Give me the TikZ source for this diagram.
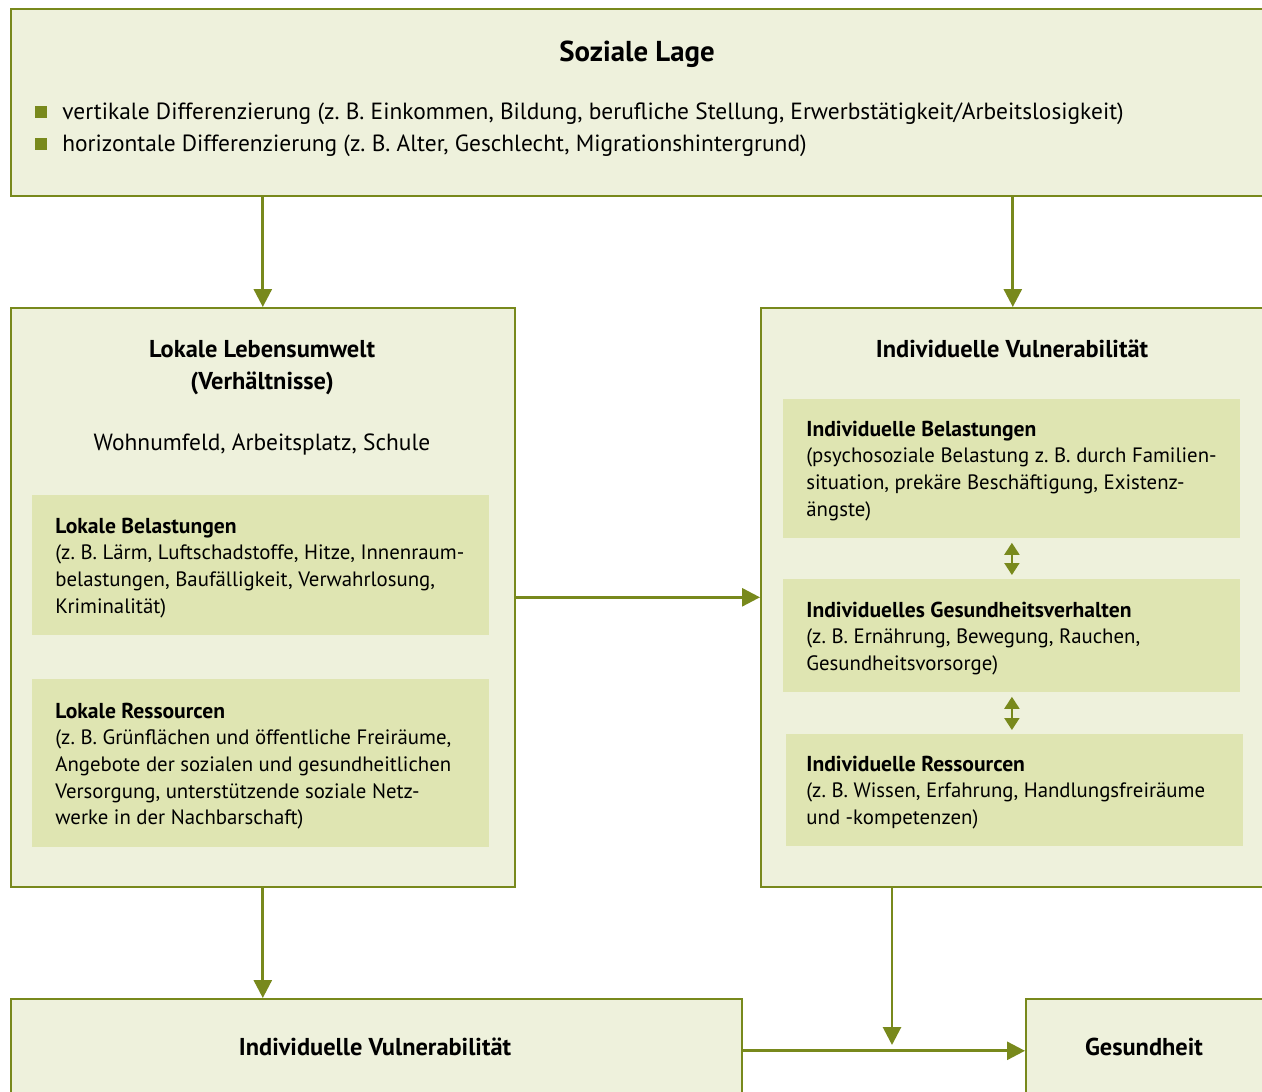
\documentclass[tikz,border=0pt]{standalone}
\usepackage{fontspec}
\setmainfont{PT Sans}
\usetikzlibrary{arrows.meta}
\definecolor{olive}{RGB}{120,137,28}
\definecolor{boxfill}{RGB}{238,241,220}
\definecolor{innerfill}{RGB}{223,229,178}
\newcommand\innerhead[1]{\hbox{\fontsize{10.8pt}{13.35pt}\selectfont\bfseries #1}}
\newcommand\innerline[1]{\hbox{#1}}
\begin{document}
\begin{tikzpicture}[x=0.5pt,y=-0.5pt,
  outerbox/.style={draw=olive,line width=0.8pt,fill=boxfill,anchor=north west,inner sep=0pt},
  innerbox/.style={fill=innerfill,anchor=north west,inner sep=0pt,minimum width=228.5pt},
  arr/.style={draw=olive,line width=1.4pt,-{Triangle[width=9pt,length=9pt]}},
  darr/.style={draw=olive,line width=1pt,{Triangle[width=7.5pt,length=6pt]}-{Triangle[width=7.5pt,length=6pt]},shorten <=2pt,shorten >=2pt},
  bullet/.style={fill=olive,minimum size=6pt,inner sep=0pt},
  bigtxt/.style={inner sep=0pt,font=\fontsize{11.7pt}{16pt}\selectfont},
  ttl/.style={inner sep=0pt,font=\fontsize{12.2pt}{16pt}\selectfont\bfseries,anchor=base},
  smalltxt/.style={anchor=base west,inner sep=0pt,font=\fontsize{10.4pt}{13.35pt}\selectfont}
]
\useasboundingbox (0,0) rectangle (1262,1091);
\clip (0,0) rectangle (1262,1091);
% boxes
\node[outerbox,minimum width=630pt,minimum height=93.5pt] (top) at (10,8) {};
\node[outerbox,minimum width=252pt,minimum height=289.5pt] (left) at (10,307) {};
\node[outerbox,minimum width=252pt,minimum height=289.5pt] (right) at (760,307) {};
\node[outerbox,minimum width=365.5pt,minimum height=52pt] (bl) at (10,998) {};
\node[outerbox,minimum width=125pt,minimum height=52pt] (ges) at (1025,998) {};
\node[innerbox,minimum height=70pt] (lb) at (32,495) {};
\node[innerbox,minimum height=84pt] (lr) at (32,679) {};
\node[innerbox,minimum height=69.5pt] (ib) at (783,399) {};
\node[innerbox,minimum height=56.5pt] (ig) at (783,579) {};
\node[innerbox,minimum height=56pt] (ir) at (786,734) {};
% top texts
\node[inner sep=0pt,anchor=base,font=\fontsize{14.4pt}{16pt}\selectfont\bfseries] (tt) at (637,62) {Soziale Lage};
\node[bullet] (b1) at (41,112) {};
\node[bullet] (b2) at (41,144) {};
\node[bigtxt,anchor=base west] (t1) at (62,120) {vertikale Differenzierung (z.~B. Einkommen, Bildung, berufliche Stellung, Erwerbstätigkeit/Arbeitslosigkeit)};
\node[bigtxt,anchor=base west] (t2) at (62,152) {horizontale Differenzierung (z.~B. Alter, Geschlecht, Migrationshintergrund)};
% left texts
\node[ttl] (lt1) at (262,357) {Lokale Lebensumwelt};
\node[ttl] (lt2) at (262,389) {(Verhältnisse)};
\node[bigtxt,anchor=base] (lt3) at (262,450) {Wohnumfeld, Arbeitsplatz, Schule};
\node[smalltxt] (lbt) at (55,533) {\vtop{\innerhead{Lokale Belastungen}\innerline{(z.~B. Lärm, Luftschadstoffe, Hitze, Innenraum-}\innerline{belastungen, Baufälligkeit, Verwahrlosung,}\innerline{Kriminalität)}}};
\node[smalltxt] (lrt) at (55,718) {\vtop{\innerhead{Lokale Ressourcen}\innerline{(z.~B. Grünflächen und öffentliche Freiräume,}\innerline{Angebote der sozialen und gesundheitlichen}\innerline{Versorgung, unterstützende soziale Netz-}\innerline{werke in der Nachbarschaft)}}};
% right texts
\node[ttl] (rt) at (1012,357) {Individuelle Vulnerabilität};
\node[smalltxt] (ibt) at (806,436) {\vtop{\innerhead{Individuelle Belastungen}\innerline{(psychosoziale Belastung z.~B. durch Familien-}\innerline{situation, prekäre Beschäftigung, Existenz-}\innerline{ängste)}}};
\node[smalltxt] (igt) at (806,617) {\vtop{\innerhead{Individuelles Gesundheitsverhalten}\innerline{(z.~B. Ernährung, Bewegung, Rauchen,}\innerline{Gesundheitsvorsorge)}}};
\node[smalltxt] (irt) at (806,771) {\vtop{\innerhead{Individuelle Ressourcen}\innerline{(z.~B. Wissen, Erfahrung, Handlungsfreiräume}\innerline{und -kompetenzen)}}};
% bottom texts
\node[ttl] (blt) at (375,1055) {Individuelle Vulnerabilität};
\node[ttl] (gt) at (1144,1055) {Gesundheit};
% connectors
\coordinate (j) at (892,1045);
\draw[arr] (top.south -| left.north) -- (left.north);
\draw[arr] (top.south -| right.north) -- (right.north);
\draw[arr] (left.east) -- (right.west);
\draw[arr] (left.south) -- (bl.north -| left.south);
\draw[arr] (right.south -| j) -- (j);
\draw[arr] (bl.east) -- (ges.west);
\draw[darr] (ib.south) -- (ig.north);
\draw[darr] (ig.south) -- (ir.north -| ig.south);
\end{tikzpicture}
\end{document}
